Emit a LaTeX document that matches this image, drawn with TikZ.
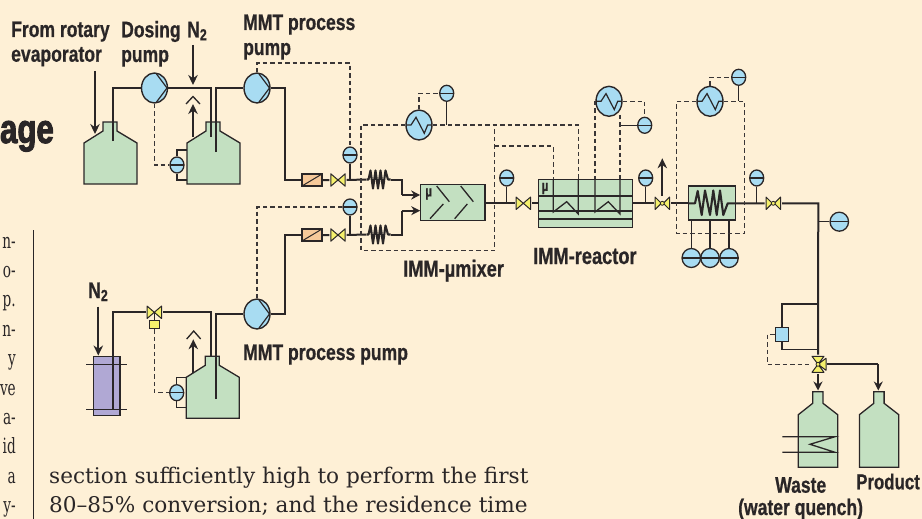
\documentclass[tikz,border=0pt]{standalone}
\usepackage{fontspec}
\usetikzlibrary{shapes.geometric,arrows.meta,calc}
\newfontfamily\labfont[FakeStretch=0.78,BoldFeatures={FakeBold=0.6}]{Liberation Sans}
\newfontfamily\headfont[FakeStretch=0.76,BoldFeatures={FakeBold=2.4}]{Liberation Sans}
\newfontfamily\bodyfont{DejaVu Serif}
\newfontfamily\fragfont[FakeStretch=0.65]{DejaVu Serif}
\definecolor{bgc}{HTML}{FEF0D6}
\definecolor{ink}{HTML}{2A2627}
\definecolor{sig}{HTML}{3A3637}
\definecolor{bluec}{HTML}{A8DCF2}
\definecolor{greenc}{HTML}{C3E0C1}
\definecolor{yellowc}{HTML}{F5F06C}
\definecolor{orangec}{HTML}{F6C99A}
\definecolor{purplec}{HTML}{B0A8D4}
\newcommand{\Ntwo}{N\raisebox{-3pt}{\fontsize{16}{16}\selectfont 2}}
\newcommand{\vessel}[3]{%
  \node[inner sep=0pt,minimum width=53pt,minimum height=62pt,anchor=south west] (#1) at (#2,#3) {};
  \draw[shell,shift={(#2,#3)}] (0,0)--(0,-41)--(19,-53)--(19,-62)--(33,-62)--(33,-53)--(53,-41)--(53,0)--cycle;}
\newcommand{\bottle}[3]{%
  \node[inner sep=0pt,minimum width=39pt,minimum height=76pt,anchor=south west] (#1) at (#2,#3) {};
  \draw[shell,shift={(#2,#3)}] (0,0)--(0,-52.6)--(14.4,-64)--(14.4,-75.6)--(24.7,-75.6)--(24.7,-64)--(39.4,-52.6)--(39.4,0)--cycle;}
\newcommand{\coilat}[2]{%
  \draw[pipe,line width=2.1pt,line join=round,shift={(#1,#2)}] (-12,0)--(-10,0)--(-8,-9)--(-5.5,9)--(-3,-9)--(-.5,9)--(2,-9)--(4.5,9)--(7,-9)--(9.5,0)--(12,0);}
\tikzset{
  lab/.style={font=\labfont\bfseries\fontsize{22.5}{22.5}\selectfont,text=ink,inner sep=0pt,anchor=base west},
  labwide/.style={lab,font=\labfont\bfseries\fontsize{23.4}{23.4}\selectfont},
  labnarrow/.style={lab,font=\labfont\bfseries\fontsize{21.6}{21.6}\selectfont},
  bodytxt/.style={font=\bodyfont\fontsize{21.6}{21.6}\selectfont,text=ink,inner sep=0pt},
  fragtxt/.style={font=\fragfont\fontsize{21}{21}\selectfont,text=ink,inner sep=0pt},
  pipe/.style={draw=ink,line width=2pt},
  thinl/.style={draw=ink,line width=1.3pt},
  sigl/.style={draw=sig,line width=1.25pt,dash pattern=on 4.5pt off 3pt},
  shell/.style={draw=ink,line width=1.3pt,fill=greenc},
  arr/.style={draw=ink,line width=1.7pt,-{Stealth[length=10pt,width=9.5pt]}},
  sensor/.style={ellipse,draw=ink,line width=1.3pt,fill=bluec,inner sep=0pt,minimum width=14pt,minimum height=16pt,
    path picture={\draw[ink,line width=1.1pt] (path picture bounding box.west)--(path picture bounding box.east);}},
  bigsensor/.style={sensor,minimum width=18.5pt,minimum height=19pt},
  pumpn/.style={ellipse,draw=ink,line width=1.4pt,fill=bluec,inner sep=0pt,minimum width=26pt,minimum height=30pt,
    path picture={\begin{scope}[shift=(path picture bounding box.center)]
      \draw[ink,line width=1.2pt] (2,-14)--(12.5,0)--(2,14);\end{scope}}},
  hxn/.style={ellipse,draw=ink,line width=1.4pt,fill=bluec,inner sep=0pt,minimum width=26pt,minimum height=30pt,
    path picture={\begin{scope}[shift=(path picture bounding box.center)]
      \draw[ink,line width=1.2pt] (-13,0)--(-8,0)--(-3,-7.7)--(5.3,8.3)--(8.7,0)--(13,0);\end{scope}}},
  valven/.style={rectangle,inner sep=0pt,minimum width=17pt,minimum height=15pt,
    path picture={\begin{scope}[shift=(path picture bounding box.center)]
      \draw[ink,fill=yellowc,line width=1pt,line join=round] (-7.2,-6.2)--(0,0)--(-7.2,6.2)--cycle (7.2,-6.2)--(0,0)--(7.2,6.2)--cycle;\end{scope}}},
  valvedot/.style={rectangle,inner sep=0pt,minimum width=17pt,minimum height=15pt,
    path picture={\begin{scope}[shift=(path picture bounding box.center)]
      \draw[ink,fill=yellowc,line width=1pt,line join=round] (-7.2,-6.2)--(-1,0)--(-7.2,6.2)--cycle (7.2,-6.2)--(1,0)--(7.2,6.2)--cycle;
      \draw[ink,fill=yellowc,line width=.8pt] (0,0) circle (2pt);\end{scope}}},
  valvethree/.style={rectangle,inner sep=0pt,minimum width=17pt,minimum height=19pt,
    path picture={\begin{scope}[shift=(path picture bounding box.center)]
      \draw[ink,fill=yellowc,line width=1pt,line join=round] (-6,-8)--(0,0)--(6,-8)--cycle (-6,8)--(0,0)--(6,8)--cycle (8,-6)--(0,0)--(8,6)--cycle;
      \draw[ink,fill=yellowc,line width=.8pt] (0,0) circle (2pt);\end{scope}}},
  filtern/.style={rectangle,draw=ink,line width=1.3pt,fill=orangec,inner sep=0pt,minimum width=20pt,minimum height=12pt,
    path picture={\draw[ink,line width=1pt] (path picture bounding box.south west)--(path picture bounding box.north east);}},
  greenbox/.style={rectangle,draw=ink,line width=1.4pt,fill=greenc,inner sep=0pt},
  coiln/.style={rectangle,inner sep=0pt,minimum width=24pt,minimum height=20pt},
  mu/.style={font=\labfont\bfseries\fontsize{15}{15}\selectfont,text=ink,inner sep=0pt},
}
\begin{document}
\begin{tikzpicture}[x=1pt,y=-1pt]
\path[fill=bgc,use as bounding box] (0,0) rectangle (922,519);
\clip (0,0) rectangle (922,519);
% page text
\node[font=\headfont\bfseries\fontsize{41}{41}\selectfont,text=ink,inner sep=0pt,anchor=base east] (heading) at (54,143) {age};
\coordinate (ruleA) at (33.7,230); \coordinate (ruleB) at (33.7,519);
\draw[ink,line width=1.1pt] (ruleA)--(ruleB);
\foreach \t [count=\i from 0] in {n-,o-,p.,n-,y,ve,a-,id,a,y-}{
  \node[fragtxt,anchor=base east] (frag\i) at (16,{248+29.4*\i}) {\t};}
\node[bodytxt,anchor=base west] (para1) at (49,483) {section sufficiently high to perform the first};
\node[bodytxt,anchor=base west] (para2) at (49,512.5) {80–85\% conversion; and the residence time};
% vessels
\vessel{t1}{84}{184}
\vessel{t2}{187}{184}
\vessel{t3}{186.3}{418.3}
\node[rectangle,draw=ink,line width=1.4pt,fill=purplec,inner sep=0pt,minimum width=26.5pt,minimum height=59pt,anchor=south west] (col) at (92.7,416.3) {};
\bottle{waste}{798.3}{467.3}
\bottle{prod}{859.4}{467.3}
% pumps
\node[pumpn] (p1) at (154.5,88) {};
\node[pumpn] (p2) at (257,88) {};
\node[pumpn] (p3) at (257,314) {};
% filters, valves, coils
\node[filtern] (f1) at (312,180) {};
\node[filtern] (f2) at (312,235) {};
\node[valven] (v1) at (338,180) {};
\node[valven] (v2) at (338,235) {};
\node[coiln] (c1) at (378.5,179.5) {}; \coilat{378.5}{179.5}
\node[coiln] (c2) at (378.5,234.5) {}; \coilat{378.5}{234.5}
\node[valven] (v3) at (523.3,203.3) {};
\node[valvedot] (v4) at (662.3,203.3) {};
\node[valvedot] (v5) at (773.3,203.3) {};
\node[valven] (v6) at (154.3,312.3) {};
\node[valvethree] (v7) at (818,364.3) {};
\node[rectangle,draw=ink,line width=1.1pt,fill=yellowc,inner sep=0pt,minimum width=9.5pt,minimum height=8.5pt] (act) at (154.3,324.5) {};
\node[rectangle,draw=ink,line width=1.3pt,fill=bluec,inner sep=0pt,minimum width=13.5pt,minimum height=14pt] (ctrl) at (782,334.3) {};
% mixer, reactor, coil box
\node[greenbox,minimum width=64.3pt,minimum height=36pt] (mix) at (452.8,202.7) {};
\node[mu] (mumix) at (428.7,194) {µ};
\draw[thinl] (436.7,186)--(449.3,201.7) (430,218.7)--(443.3,204) (460.7,186)--(473.3,201.7) (454.7,218.7)--(467.3,204);
\node[greenbox,minimum width=93.6pt,minimum height=48pt] (reac) at (585.5,203.3) {};
\node[mu] (mureac) at (545,188.5) {µ};
\draw[thinl] (538.7,196)--(632.3,196) (538.7,211)--(632.3,211) (538.7,219)--(632.3,219);
\node[greenbox,minimum width=46.6pt,minimum height=34pt] (cbox) at (712,203) {};
\draw[pipe,line width=2.1pt,line join=round] (688.7,203.3)--(695,203.3)--(697.7,191)--(701.7,215)--(705,190.5)--(710,215)--(713.3,190.5)--(716.7,215)--(720,190.5)--(723.3,215)--(727.7,203.3)--(735.3,203.3);
% heat exchangers
\node[hxn] (h1) at (419,125) {};
\node[hxn] (h2) at (609,101.3) {};
\node[hxn] (h3) at (710,101.3) {};
% sensors
\node[sensor] (s1) at (177,165) {};
\node[sensor] (s2) at (350,155) {};
\node[sensor] (s3) at (350,207) {};
\node[sensor] (s4) at (446.7,93.3) {};
\node[sensor] (s5) at (506.7,178) {};
\node[sensor] (s6) at (644.7,125.3) {};
\node[sensor] (s7) at (645.7,178) {};
\node[sensor] (s8) at (738.7,77.3) {};
\node[sensor] (s9) at (756.7,178) {};
\node[sensor] (s10) at (176.7,392.7) {};
\node[bigsensor] (b1) at (839.3,221.7) {};
\node[bigsensor] (b2) at (691.3,258) {};
\node[bigsensor] (b3) at (710,258) {};
\node[bigsensor] (b4) at (729,258) {};
% free ends
\coordinate (t1in) at (113,141);
\coordinate (t2a) at (211,137);
\coordinate (t2b) at (216,152);
\coordinate (t3a) at (210.7,356.7);
\coordinate (t3b) at (216,399);
\coordinate (colb) at (112.7,409.3);
\coordinate (n2a) at (193,45); \coordinate (n2b) at (193,85);
\coordinate (eva) at (95,71); \coordinate (evb) at (95,134);
\coordinate (upa) at (193,137); \coordinate (upb) at (193,104);
\coordinate (lowa) at (193.3,373); \coordinate (lowb) at (193.3,339.3);
\coordinate (n2c) at (98.3,306.7); \coordinate (n2d) at (98.3,355.5);
\coordinate (m1) at (401.7,179.5); \coordinate (m1b) at (401.7,195); \coordinate (m1c) at (420.2,195);
\coordinate (m2) at (401.7,234.5); \coordinate (m2b) at (401.7,210.7); \coordinate (m2c) at (420.2,210.7);
\coordinate (main) at (818.3,203.3);
\coordinate (prodj) at (878.3,364.3); \coordinate (prodin) at (878.3,390.5);
\coordinate (wastein) at (818,390.5);
\coordinate (vent) at (662.3,158.3);
% pipes
\draw[pipe] (t1in) |- (p1.west);
\draw[pipe] (p1.east) -| (t2a);
\draw[pipe] (t2b) |- (p2.west);
\draw[pipe] (p2.east) -| ($(f1.west)+(-16,0)$) -- (f1.west);
\draw[pipe] (f1.east)--(v1.west) (v1.east)--(c1.west);
\draw[pipe] (c1.east)--(m1)--(m1b);
\draw[pipe,-{Stealth[length=9pt,width=9pt]}] (m1b)--(m1c);
\draw[pipe] (p3.east) -| ($(f2.west)+(-16,0)$) -- (f2.west);
\draw[pipe] (f2.east)--(v2.west) (v2.east)--(c2.west);
\draw[pipe] (c2.east)--(m2)--(m2b);
\draw[pipe,-{Stealth[length=9pt,width=9pt]}] (m2b)--(m2c);
\draw[pipe] (mix.east |- v3)--(v3.west) (v3.east)--(reac.west |- v3);
\draw[pipe] (reac.east |- v4)--(v4.west) (v4.east)--(cbox.west |- v4);
\draw[pipe] (cbox.east |- v5)--(v5.west) (v5.east)--(main)--(v7.north);
\draw[pipe] (v7.east) -| (prodj);
\draw[pipe,-{Stealth[length=9pt,width=9pt]}] (prodj)--(prodin);
\draw[pipe,-{Stealth[length=9pt,width=9pt]}] (v7.south)--(wastein);
\draw[pipe] (colb) |- (v6.west);
\draw[pipe] (v6.east) -| (t3a);
\draw[pipe] (t3b) |- (p3.west);
\draw[thinl] ($(col.north west)+(-6.7,8.4)$)--($(col.north east)+(6,8.4)$);
\draw[thinl] ($(col.south west)+(-6.7,-7)$)--($(col.south east)+(6,-7)$);
% arrows
\draw[arr] (eva)--(evb);
\draw[arr] (n2a)--(n2b);
\draw[arr] (upa)--(upb);
\draw[arr] (lowa)--(lowb);
\draw[arr] (n2c)--(n2d);
\draw[arr] (v4.north)--(vent);
\draw[thinl] (186,104)--(193,96.5)--(200,104);
\draw[thinl] (186.7,339)--(193.7,331)--(200.7,339);
% thin lines
\draw[thinl] (t2.west |- 0,150) -| (s1.north);
\draw[thinl] (t2.west |- 0,180) -| (s1.south);
\draw[thinl] (t3.west |- 0,377.3) -| (s10.north);
\draw[thinl] (t3.west |- 0,407.3) -| (s10.south);
\draw[thinl] (s2.south)--(s2 |- v1.center);
\draw[thinl] (s3.south)--(s3 |- v2.center);
\draw[thinl] (s4.south)--(s4 |- h1.center);
\draw[thinl] (s5.south)--(s5 |- v3.center);
\draw[thinl] (s6.west)--++(-17,0);
\draw[thinl] (s7.south)--(s7 |- v4.center);
\draw[thinl] (s8.south)--(s8 |- h3.center);
\draw[thinl] (s9.south)--(s9 |- v5.center);
\draw[thinl] (b1.west)--(main |- b1);
\draw[thinl] (b2.north)--(b2 |- cbox.south);
\draw[thinl] (b3.north)--(b3 |- cbox.south);
\draw[thinl] (b4.north)--(b4 |- cbox.south);
\draw[thinl] (ctrl.north) |- (main |- 0,304);
\draw[thinl] (ctrl.south) |- (main |- 0,349.3);
\draw[thinl] (v6.center)--(act.north);
% reactor internals
\draw[thinl] (553.3,179.3)--(553.3,212)--(566.7,201.7)--(578.3,214)--(578.3,179.3);
\draw[thinl] (595,179.3)--(595,212)--(608.3,201.7)--(620,214)--(620,179.3);
% quench coil
\draw[thinl] (782.3,436.7)--(835,436.7)--(810,444.3)--(835,452.3)--(782.3,452.3);
% signal lines
\coordinate (dm) at (361,250.7); \coordinate (dme) at (494.3,125);
\coordinate (r1) at (553.3,179.3); \coordinate (r2) at (578.3,179.3);
\coordinate (r3) at (595,179.3); \coordinate (r4) at (620,179.3);
\coordinate (dj) at (494.3,146);
\coordinate (cbsw) at (676.7,233.3); \coordinate (cbse) at (744.3,233.3);
\coordinate (dp2) at (350,63); \coordinate (h2s) at (620,115);
\coordinate (d7) at (767.3,364.3);
\draw[sigl] (p1.south) |- (s1.west);
\draw[sigl] (act.south) |- (s10.west);
\draw[sigl] (p2.north) |- (dp2) -- (s2.north);
\draw[sigl] (s3.west) -| (p3.north);
\draw[sigl] (h1.west) -| (dm) -| (dme);
\draw[sigl] (h1.east) -| (r2);
\draw[sigl] (dj) -| (r1);
\draw[sigl] (h1.north) |- (s4.west);
\draw[sigl] (h2.west) -| (r3);
\draw[sigl] (h2s) -- (r4);
\draw[sigl] (h2.east) -| (s6.north);
\draw[sigl] (h3.west) -| (cbsw) -- (cbse) |- (h3.east);
\draw[sigl] (h3.north) |- (s8.west);
\draw[sigl] (ctrl.west) -| (d7) -- (v7.west);
% labels
\node[lab] (l1) at (11,37) {From rotary};
\node[lab] (l2) at (11,61.7) {evaporator};
\node[lab] (l3) at (121,37.3) {Dosing};
\node[lab] (l4) at (121,62) {pump};
\node[lab] (l5) at (187,37.3) {\Ntwo};
\node[lab] (l6) at (243,30) {MMT process};
\node[lab] (l7) at (243,55) {pump};
\node[lab] (l8) at (243,360) {MMT process pump};
\node[lab] (l9) at (88,298) {\Ntwo};
\node[labwide] (l10) at (403,276.7) {IMM-µmixer};
\node[labwide] (l11) at (533,264) {IMM-reactor};
\node[lab] (l12) at (775,492.7) {Waste};
\node[lab] (l13) at (738,515) {(water quench)};
\node[labnarrow] (l14) at (856,489.3) {Product};
\end{tikzpicture}
\end{document}
